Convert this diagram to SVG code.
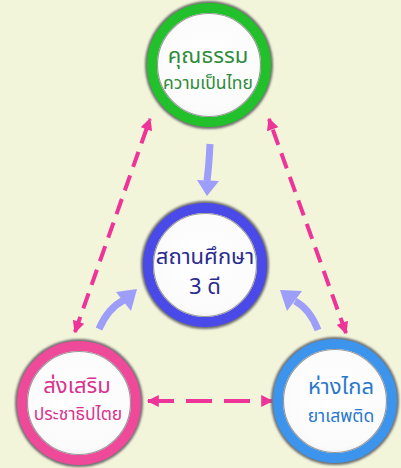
<svg xmlns="http://www.w3.org/2000/svg" width="401" height="468" viewBox="0 0 401 468">
<defs>
<radialGradient id="fillg" cx="50%" cy="45%" r="55%">
<stop offset="0" stop-color="#ffffff"/>
<stop offset="0.8" stop-color="#fbfbfb"/>
<stop offset="1" stop-color="#e6e6e6"/>
</radialGradient>
<filter id="sh" x="-20%" y="-20%" width="140%" height="140%">
<feGaussianBlur stdDeviation="1.2"/>
</filter>
<marker id="pk" viewBox="0 0 10 10" refX="9" refY="5" markerWidth="3.2" markerHeight="3" orient="auto-start-reverse" markerUnits="strokeWidth">
<path d="M0,0 L10,5 L0,10 z" fill="#ee3399"/>
</marker>
</defs>
<style>
.bg{fill:#f3f5da}
.shadow{fill:#6e6e6e;filter:url(#sh)}
.inner{fill:url(#fillg)}
.ring{fill:none;stroke-width:10}
.edge{fill:none;stroke:#9a9a9a;stroke-width:1.2}
.t{font-family:"Noto Sans Thai","Noto Sans","DejaVu Sans",sans-serif;text-anchor:middle}
.big{font-size:22px}
.small{font-size:17.5px}
.pd{fill:none;stroke:#ee3399;stroke-width:4;marker-start:url(#pk);marker-end:url(#pk)}
.lav{fill:none;stroke:#9d9dfa;stroke-width:7}
.lavh{fill:#9d9dfa}
</style>
<rect class="bg" x="0" y="0" width="401" height="468"/>

<g id="connectors">
<path class="pd" d="M75,332 L150,119" stroke-dasharray="16 9"/>
<path class="pd" d="M346,333 L269,119" stroke-dasharray="16 9"/>
<path class="pd" d="M148,401 L272,401" stroke-dasharray="26 12"/>
<path class="lav" d="M210,144 Q209,165 207,181" stroke-width="6"/>
<path class="lavh" d="M197,180 L219,181 L207,196 z"/>
<path class="lav" d="M99,329 Q108,308 124,300"/>
<path class="lavh" d="M116,292 L137,289 L131,311 z"/>
<path class="lav" d="M318,330 Q310,309 295,301"/>
<path class="lavh" d="M302,291 L280,290 L287,311 z"/>
</g>

<g id="node-top">
<circle class="shadow" cx="209" cy="65" r="64"/>
<circle class="inner" cx="209" cy="65" r="60"/>
<circle class="ring" cx="209" cy="65" r="57" stroke="#22c02a"/>
<circle class="edge" cx="209" cy="65" r="51.5"/>
<text class="t big" x="208" y="63" fill="#2e8b3a">คุณธรรม</text>
<text class="t small" x="208" y="89" fill="#2e8b3a">ความเป็นไทย</text>
</g>

<g id="node-center">
<circle class="shadow" cx="205" cy="265" r="64"/>
<circle class="inner" cx="205" cy="265" r="60"/>
<circle class="ring" cx="205" cy="265" r="57" stroke="#4a4ae8"/>
<circle class="edge" cx="205" cy="265" r="51.5"/>
<text class="t big" x="205" y="264" fill="#2b2b8f">สถานศึกษา</text>
<text class="t big" x="205" y="294" fill="#2b2b8f">3 ดี</text>
</g>

<g id="node-left">
<circle class="shadow" cx="79" cy="403" r="64"/>
<circle class="inner" cx="79" cy="403" r="60"/>
<circle class="ring" cx="79" cy="403" r="57" stroke="#ee4a99"/>
<circle class="edge" cx="79" cy="403" r="51.5"/>
<text class="t big" x="77" y="393" fill="#d8338f">ส่งเสริม</text>
<text class="t small" x="78" y="420" fill="#d8338f">ประชาธิปไตย</text>
</g>

<g id="node-right">
<circle class="shadow" cx="335" cy="401" r="64"/>
<circle class="inner" cx="335" cy="401" r="60"/>
<circle class="ring" cx="335" cy="401" r="57" stroke="#3d94ec"/>
<circle class="edge" cx="335" cy="401" r="51.5"/>
<text class="t big" x="341" y="394" fill="#2a78cc">ห่างไกล</text>
<text class="t small" x="341" y="422" fill="#2a78cc">ยาเสพติด</text>
</g>
</svg>
